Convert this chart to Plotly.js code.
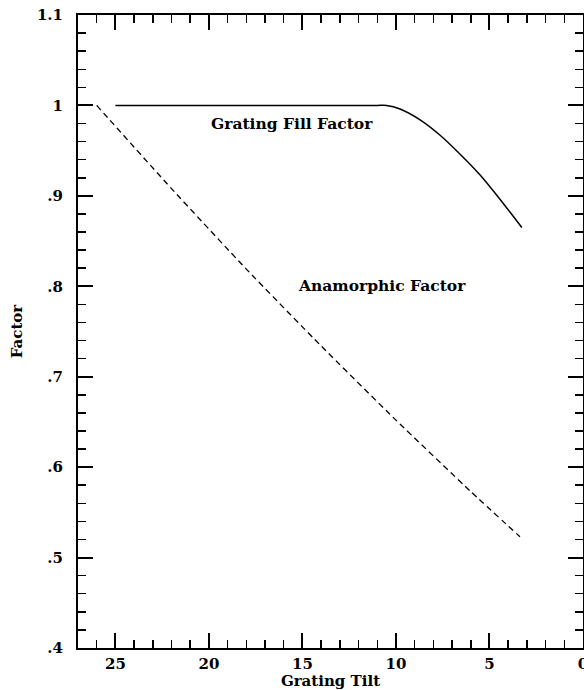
<!DOCTYPE html>
<html>
<head>
<meta charset="utf-8">
<script src="https://cdn.plot.ly/plotly-3.0.1.min.js"></script>
<style>html,body{margin:0;padding:0;background:#fff;}#chart{width:584px;height:690px;}</style>
</head>
<body>
<div id="chart"></div>
<script>
// Grating fill factor (solid line)
const fillTilt   = [25, 20, 15, 11, 10.5, 9.78, 8.71, 7.64, 6.57, 5.5, 4.43, 3.27];
const fillFactor = [1, 1, 1, 1, 1.0, 0.996, 0.984, 0.967, 0.946, 0.923, 0.896, 0.865];

// Anamorphic factor (dashed line)
const anaTilt   = [26, 22, 18, 14, 10, 6, 3.37];
const anaFactor = [1.0, 0.908, 0.819, 0.734, 0.652, 0.573, 0.523];

// Axis ticks
const xTickVals = [25, 20, 15, 10, 5, 0];
const xTickText = ['25', '20', '15', '10', '5', '0'];
const yTickVals = [0.4, 0.5, 0.6, 0.7, 0.8, 0.9, 1.0, 1.1];
const yTickText = ['.4', '.5', '.6', '.7', '.8', '.9', '1', '1.1'];

// Labels
const labels = [
  {text: 'Grating Fill Factor', x: 15.57, y: 0.9795},
  {text: 'Anamorphic Factor', x: 10.76, y: 0.8004}
];

const FONT = 'DejaVu Serif, serif';

const traces = [
  {x: fillTilt, y: fillFactor, mode: 'lines', line: {color: '#000', width: 1.5, shape: 'spline', smoothing: 0.8}, hoverinfo: 'skip'},
  {x: anaTilt, y: anaFactor, mode: 'lines', line: {color: '#000', width: 1.3, dash: '6px,4px', shape: 'spline', smoothing: 0.5}, hoverinfo: 'skip'}
];

const layout = {
  width: 584, height: 690,
  margin: {l: 78, r: 1, t: 15, b: 42},
  paper_bgcolor: '#fff', plot_bgcolor: '#fff',
  showlegend: false,
  font: {family: FONT, color: '#000', size: 14},
  xaxis: {
    range: [27, 0], autorange: false,
    showgrid: false, zeroline: false,
    showline: true, linewidth: 2, linecolor: '#000', mirror: 'allticks',
    ticks: 'inside', ticklen: 15, tickwidth: 2, tickcolor: '#000',
    tickvals: xTickVals, ticktext: xTickText,
    tickfont: {family: FONT, size: 15, weight: 'bold'},
    ticklabelstandoff: 1,
    ticklabeloverflow: 'allow',
    minor: {dtick: 1, ticks: 'inside', ticklen: 8, tickwidth: 1.5, tickcolor: '#000', showgrid: false},
    title: {text: 'Grating Tilt', font: {family: FONT, size: 15, weight: 'bold'}, standoff: 3}
  },
  yaxis: {
    range: [0.4, 1.1], autorange: false,
    showgrid: false, zeroline: false,
    showline: true, linewidth: 2, linecolor: '#000', mirror: 'allticks',
    ticks: 'inside', ticklen: 15, tickwidth: 2, tickcolor: '#000',
    tickvals: yTickVals, ticktext: yTickText,
    tickfont: {family: FONT, size: 15, weight: 'bold'},
    ticklabelstandoff: 10,
    minor: {dtick: 0.02, tick0: 0.4, ticks: 'inside', ticklen: 8, tickwidth: 1.5, tickcolor: '#000', showgrid: false},
    title: {text: 'Factor', font: {family: FONT, size: 15, weight: 'bold'}, standoff: 11}
  },
  annotations: labels.map(l => ({
    text: l.text, x: l.x, y: l.y, xref: 'x', yref: 'y',
    showarrow: false, xanchor: 'center', yanchor: 'middle',
    font: {family: FONT, size: 15.5, weight: 'bold', color: '#000'}
  }))
};

Plotly.newPlot('chart', traces, layout, {displayModeBar: false, staticPlot: true});
</script>
</body>
</html>
